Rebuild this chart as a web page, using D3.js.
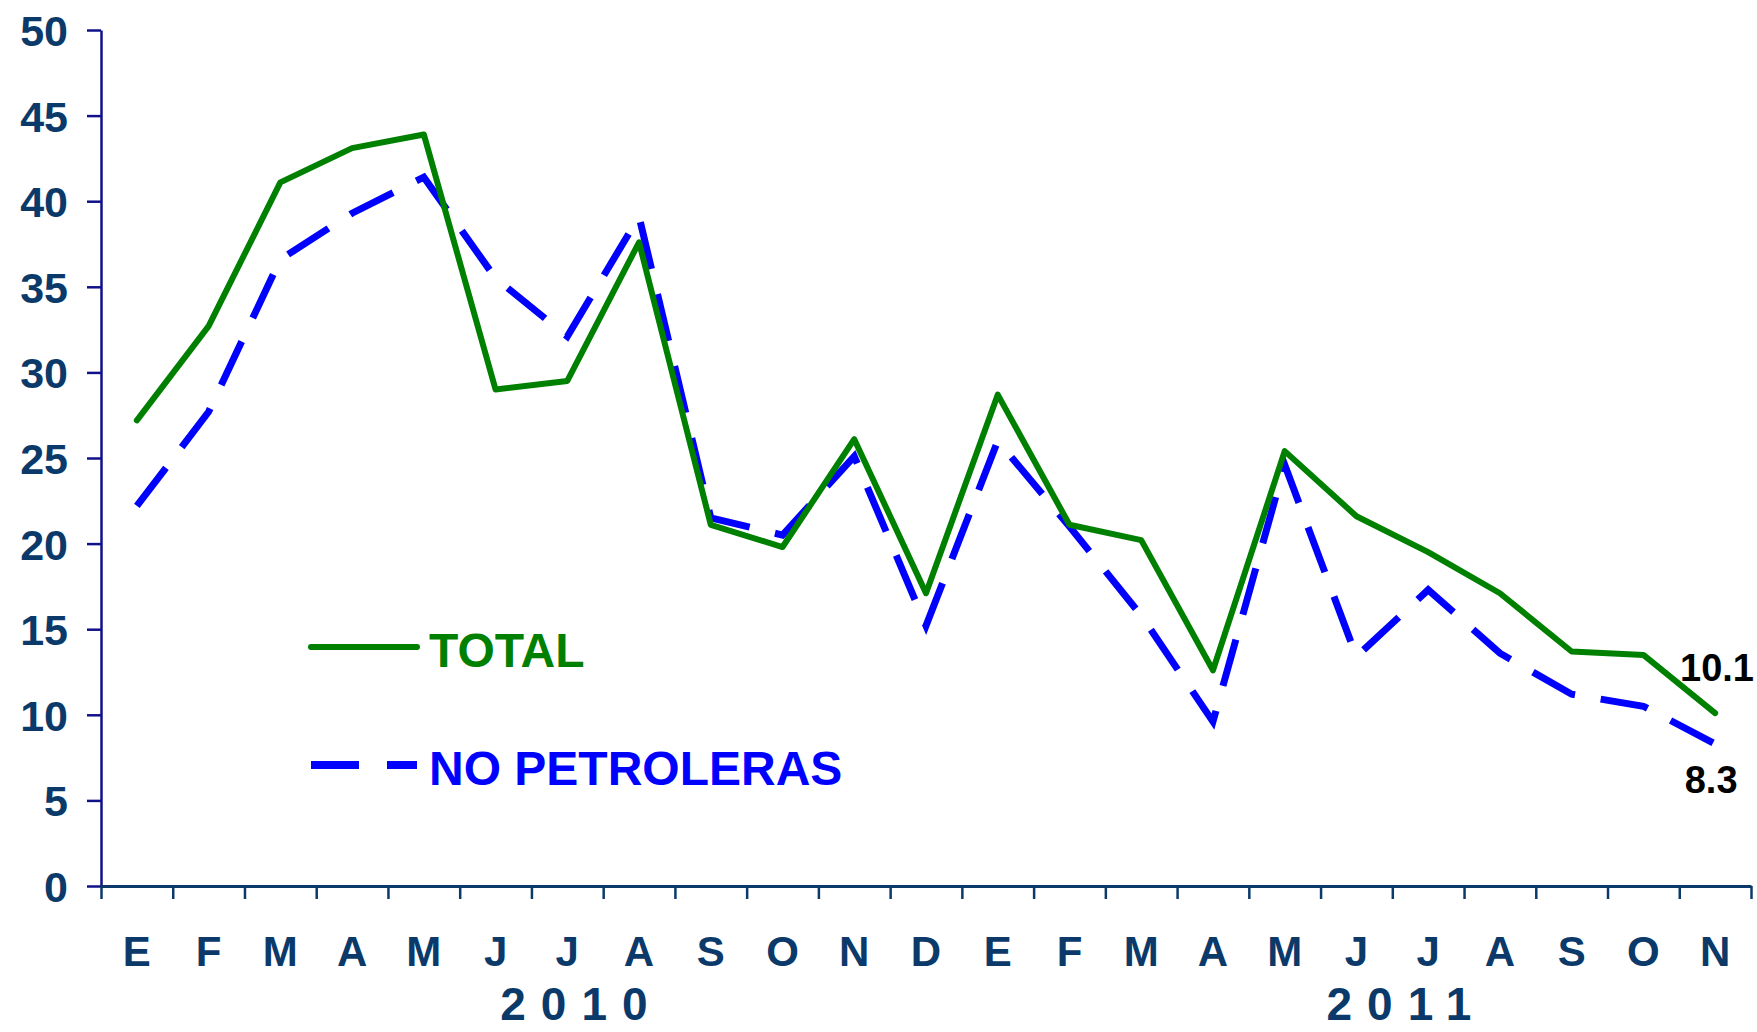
<!DOCTYPE html>
<html>
<head>
<meta charset="utf-8">
<script src="https://cdn.jsdelivr.net/npm/d3@7"></script>
<style>
  body { margin: 0; background: #fff; }
  svg { display: block; font-family: "Liberation Sans", Arial, sans-serif; }
</style>
</head>
<body>
<svg id="chart"></svg>
<script>
const months = ['E', 'F', 'M', 'A', 'M', 'J', 'J', 'A', 'S', 'O', 'N', 'D',
  'E', 'F', 'M', 'A', 'M', 'J', 'J', 'A', 'S', 'O', 'N'];
const years = [{ label: '2010', from: 0, to: 12 }, { label: '2011', from: 12, to: 23 }];
const total = [27.2, 32.7, 41.1, 43.1, 43.9, 29.0, 29.5, 37.6, 21.1, 19.8, 26.1, 17.1,
  28.7, 21.1, 20.2, 12.6, 25.4, 21.6, 19.5, 17.1, 13.7, 13.5, 10.1];
const noPetroleras = [22.2, 27.7, 36.6, 39.3, 41.4, 35.5, 32.1, 39.1, 21.5, 20.5, 25.1, 15.2,
  26.0, 21.0, 15.8, 9.6, 24.6, 13.4, 17.3, 13.6, 11.2, 10.5, 8.3];
const yTicks = [0, 5, 10, 15, 20, 25, 30, 35, 40, 45, 50];

const W = 1757, H = 1032;
const margin = { top: 30, right: 6, bottom: 146, left: 101 };
const width = W - margin.left - margin.right;
const height = H - margin.top - margin.bottom;
const navy = '#0b3a6a';

const svg = d3.select('#chart').attr('width', W).attr('height', H);
const g = svg.append('g').attr('transform', `translate(${margin.left},${margin.top})`);

const idx = d3.range(months.length);
const x = d3.scaleBand().domain(idx).range([0, width]);
const xEdge = d3.scaleLinear().domain([0, months.length]).range([0, width]);
const y = d3.scaleLinear().domain([0, 50]).range([height, 0]);

// y axis
const yAxis = g.append('g')
  .call(d3.axisLeft(y).tickValues(yTicks).tickSize(14).tickSizeOuter(0).tickPadding(19));
yAxis.select('.domain').attr('stroke', '#10108a').attr('stroke-width', 2.5);
yAxis.selectAll('.tick line').attr('stroke', '#10108a').attr('stroke-width', 2.5);
yAxis.selectAll('text')
  .attr('fill', navy).attr('font-size', 43).attr('font-weight', 'bold')
  .attr('dy', '0.36em');

// x axis: ticks at month boundaries
const xAxis = g.append('g')
  .attr('transform', `translate(0,${height})`)
  .call(d3.axisBottom(xEdge).tickValues(d3.range(months.length + 1)).tickSize(13)
    .tickSizeOuter(0).tickFormat(''));
xAxis.select('.domain').attr('stroke', navy).attr('stroke-width', 3);
xAxis.selectAll('.tick line').attr('stroke', navy).attr('stroke-width', 2.5);

// month labels
g.append('g')
  .selectAll('text')
  .data(idx)
  .enter().append('text')
  .attr('x', d => x(d) + x.bandwidth() / 2)
  .attr('y', height + 80)
  .attr('text-anchor', 'middle')
  .attr('fill', navy).attr('font-size', 42).attr('font-weight', 'bold')
  .text(d => months[d]);

// year labels
g.append('g')
  .selectAll('text')
  .data(years)
  .enter().append('text')
  .attr('x', d => (x(d.from) + x(d.to - 1) + x.bandwidth()) / 2 + 50)
  .attr('y', height + 134)
  .attr('text-anchor', 'middle')
  .attr('letter-spacing', 15)
  .attr('fill', navy).attr('font-size', 46).attr('font-weight', 'bold')
  .text(d => d.label);

// lines
const line = d3.line()
  .x((d, i) => x(i) + x.bandwidth() / 2)
  .y(d => y(d));

g.append('path')
  .datum(noPetroleras)
  .attr('fill', 'none')
  .attr('stroke', '#0000ff')
  .attr('stroke-width', 7)
  .attr('stroke-dasharray', '48,26')
  .attr('d', line);

g.append('path')
  .datum(total)
  .attr('fill', 'none')
  .attr('stroke', '#008000')
  .attr('stroke-width', 6)
  .attr('stroke-linejoin', 'round')
  .attr('stroke-linecap', 'round')
  .attr('d', line);

// end labels
const last = months.length - 1;
g.append('text')
  .attr('x', width + 3)
  .attr('y', y(total[last]) - 32)
  .attr('text-anchor', 'end')
  .attr('font-size', 38).attr('font-weight', 'bold').attr('fill', '#000')
  .text(total[last].toFixed(1));
g.append('text')
  .attr('x', x(last) + x.bandwidth() / 2 - 4)
  .attr('y', y(noPetroleras[last]) + 49)
  .attr('text-anchor', 'middle')
  .attr('font-size', 38).attr('font-weight', 'bold').attr('fill', '#000')
  .text(noPetroleras[last].toFixed(1));

// legend
const legend = g.append('g').attr('transform', `translate(${311 - margin.left},${647 - margin.top})`);
legend.append('line')
  .attr('x1', 0).attr('x2', 106).attr('y1', 0).attr('y2', 0)
  .attr('stroke', '#008000').attr('stroke-width', 6).attr('stroke-linecap', 'round');
legend.append('text')
  .attr('x', 118).attr('y', 20)
  .attr('fill', '#008000').attr('font-size', 48).attr('font-weight', 'bold')
  .text('TOTAL');
legend.append('line')
  .attr('x1', 0).attr('x2', 106).attr('y1', 118).attr('y2', 118)
  .attr('stroke', '#0000ff').attr('stroke-width', 8).attr('stroke-dasharray', '48,28');
legend.append('text')
  .attr('x', 118).attr('y', 138)
  .attr('fill', '#0000ff').attr('font-size', 48).attr('font-weight', 'bold')
  .text('NO PETROLERAS');
</script>
</body>
</html>
